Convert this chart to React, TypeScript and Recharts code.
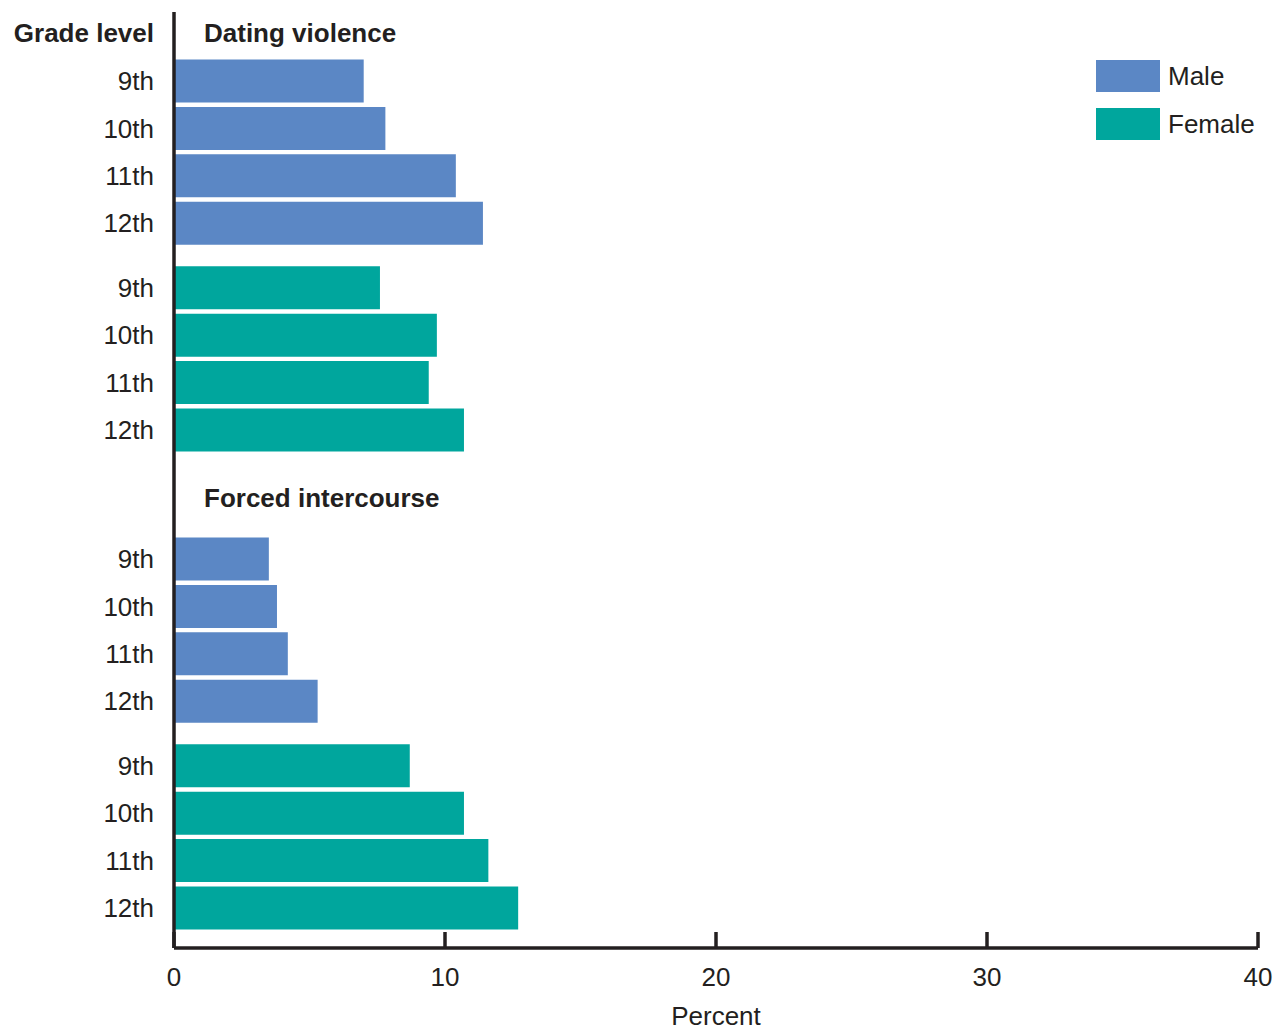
import { BarChart, Bar, XAxis, YAxis } from "recharts";

const grades = ["9th", "10th", "11th", "12th"];
const sectionTitles = ["Dating violence", "Forced intercourse"];
const maleValues = [
  [7.0, 7.8, 10.4, 11.4],
  [3.5, 3.8, 4.2, 5.3],
];
const femaleValues = [
  [7.6, 9.7, 9.4, 10.7],
  [8.7, 10.7, 11.6, 12.7],
];
const xTicks = [0, 10, 20, 30, 40];
const seriesNames = ["Male", "Female"];

const INK = "#231f20";
const COLORS = ["#5b87c5", "#00a69d"];
const FONT = '"Liberation Sans", Arial, Helvetica, sans-serif';

// row layout (in row units): gap between male and female blocks, and between sections
const SECTION_STEP = 10.08;
const FEMALE_OFFSET = 4.36;
const HEADER_POS = [-1.02, 8.79];

const rows = sectionTitles.flatMap((_, si) => [
  ...grades.map((g, i) => ({ pos: si * SECTION_STEP + i, grade: g, Male: maleValues[si][i] })),
  ...grades.map((g, i) => ({
    pos: si * SECTION_STEP + FEMALE_OFFSET + i,
    grade: g,
    Female: femaleValues[si][i],
  })),
]);

const yTicks = [...HEADER_POS, ...rows.map((r) => r.pos)];

function YTick(props: any) {
  const { x, y, payload } = props;
  const v = payload.value;
  const hi = HEADER_POS.findIndex((p) => Math.abs(p - v) < 1e-6);
  if (hi >= 0) {
    return (
      <g fontFamily={FONT} fontSize={26} fontWeight="bold" fill={INK}>
        {hi === 0 && (
          <text x={x} y={y} textAnchor="end" dominantBaseline="central">
            Grade level
          </text>
        )}
        <text x={x + 50} y={y} textAnchor="start" dominantBaseline="central">
          {sectionTitles[hi]}
        </text>
      </g>
    );
  }
  const row = rows.find((r) => Math.abs(r.pos - v) < 1e-6);
  return (
    <text
      x={x}
      y={y}
      textAnchor="end"
      dominantBaseline="central"
      fontFamily={FONT}
      fontSize={26}
      fill={INK}
    >
      {row ? row.grade : ""}
    </text>
  );
}

function XTick(props: any) {
  const { x, y, payload } = props;
  return (
    <g>
      <line x1={x} x2={x} y1={y - 16} y2={y} stroke={INK} strokeWidth={3.5} />
      <text
        x={x}
        y={y + 29}
        textAnchor="middle"
        dominantBaseline="central"
        fontFamily={FONT}
        fontSize={26}
        fill={INK}
      >
        {payload.value}
      </text>
    </g>
  );
}

export default function App() {
  return (
    <div style={{ position: "absolute", left: 0, top: 0, width: 1277, height: 1030, background: "#fff" }}>
      <BarChart
        width={1277}
        height={1030}
        data={rows}
        layout="vertical"
        margin={{ top: 12, right: 19, left: 0, bottom: 0 }}
      >
        <XAxis
          type="number"
          domain={[0, 40]}
          ticks={xTicks}
          height={82}
          axisLine={{ stroke: INK, strokeWidth: 3.5 }}
          tickLine={false}
          tickSize={0}
          tickMargin={0}
          tick={<XTick />}
          interval={0}
          label={(p: any) => {
            const vb = p.viewBox;
            return (
              <text
                x={vb.x + vb.width / 2}
                y={vb.y + 68}
                textAnchor="middle"
                dominantBaseline="central"
                fontFamily={FONT}
                fontSize={26}
                fill={INK}
              >
                Percent
              </text>
            );
          }}
        />
        <YAxis
          type="number"
          dataKey="pos"
          domain={[-1.46, 18.28]}
          allowDataOverflow
          ticks={yTicks}
          interval={0}
          width={174}
          axisLine={{ stroke: INK, strokeWidth: 3.5 }}
          tickLine={false}
          tickSize={0}
          tickMargin={20}
          tick={<YTick />}
        />
        <Bar dataKey="Male" name="Male" stackId="g" fill={COLORS[0]} barSize={43} isAnimationActive={false} />
        <Bar dataKey="Female" name="Female" stackId="g" fill={COLORS[1]} barSize={43} isAnimationActive={false} />
      </BarChart>
      <div
        style={{
          position: "absolute",
          left: 1096,
          top: 60,
          fontFamily: FONT,
          fontSize: 26,
          color: INK,
        }}
      >
        {seriesNames.map((name, i) => (
          <div key={name} style={{ display: "flex", alignItems: "center", height: 32, marginBottom: 16 }}>
            <div style={{ width: 64, height: 32, background: COLORS[i], marginRight: 8 }} />
            <span style={{ lineHeight: "32px", whiteSpace: "nowrap" }}>{name}</span>
          </div>
        ))}
      </div>
    </div>
  );
}
